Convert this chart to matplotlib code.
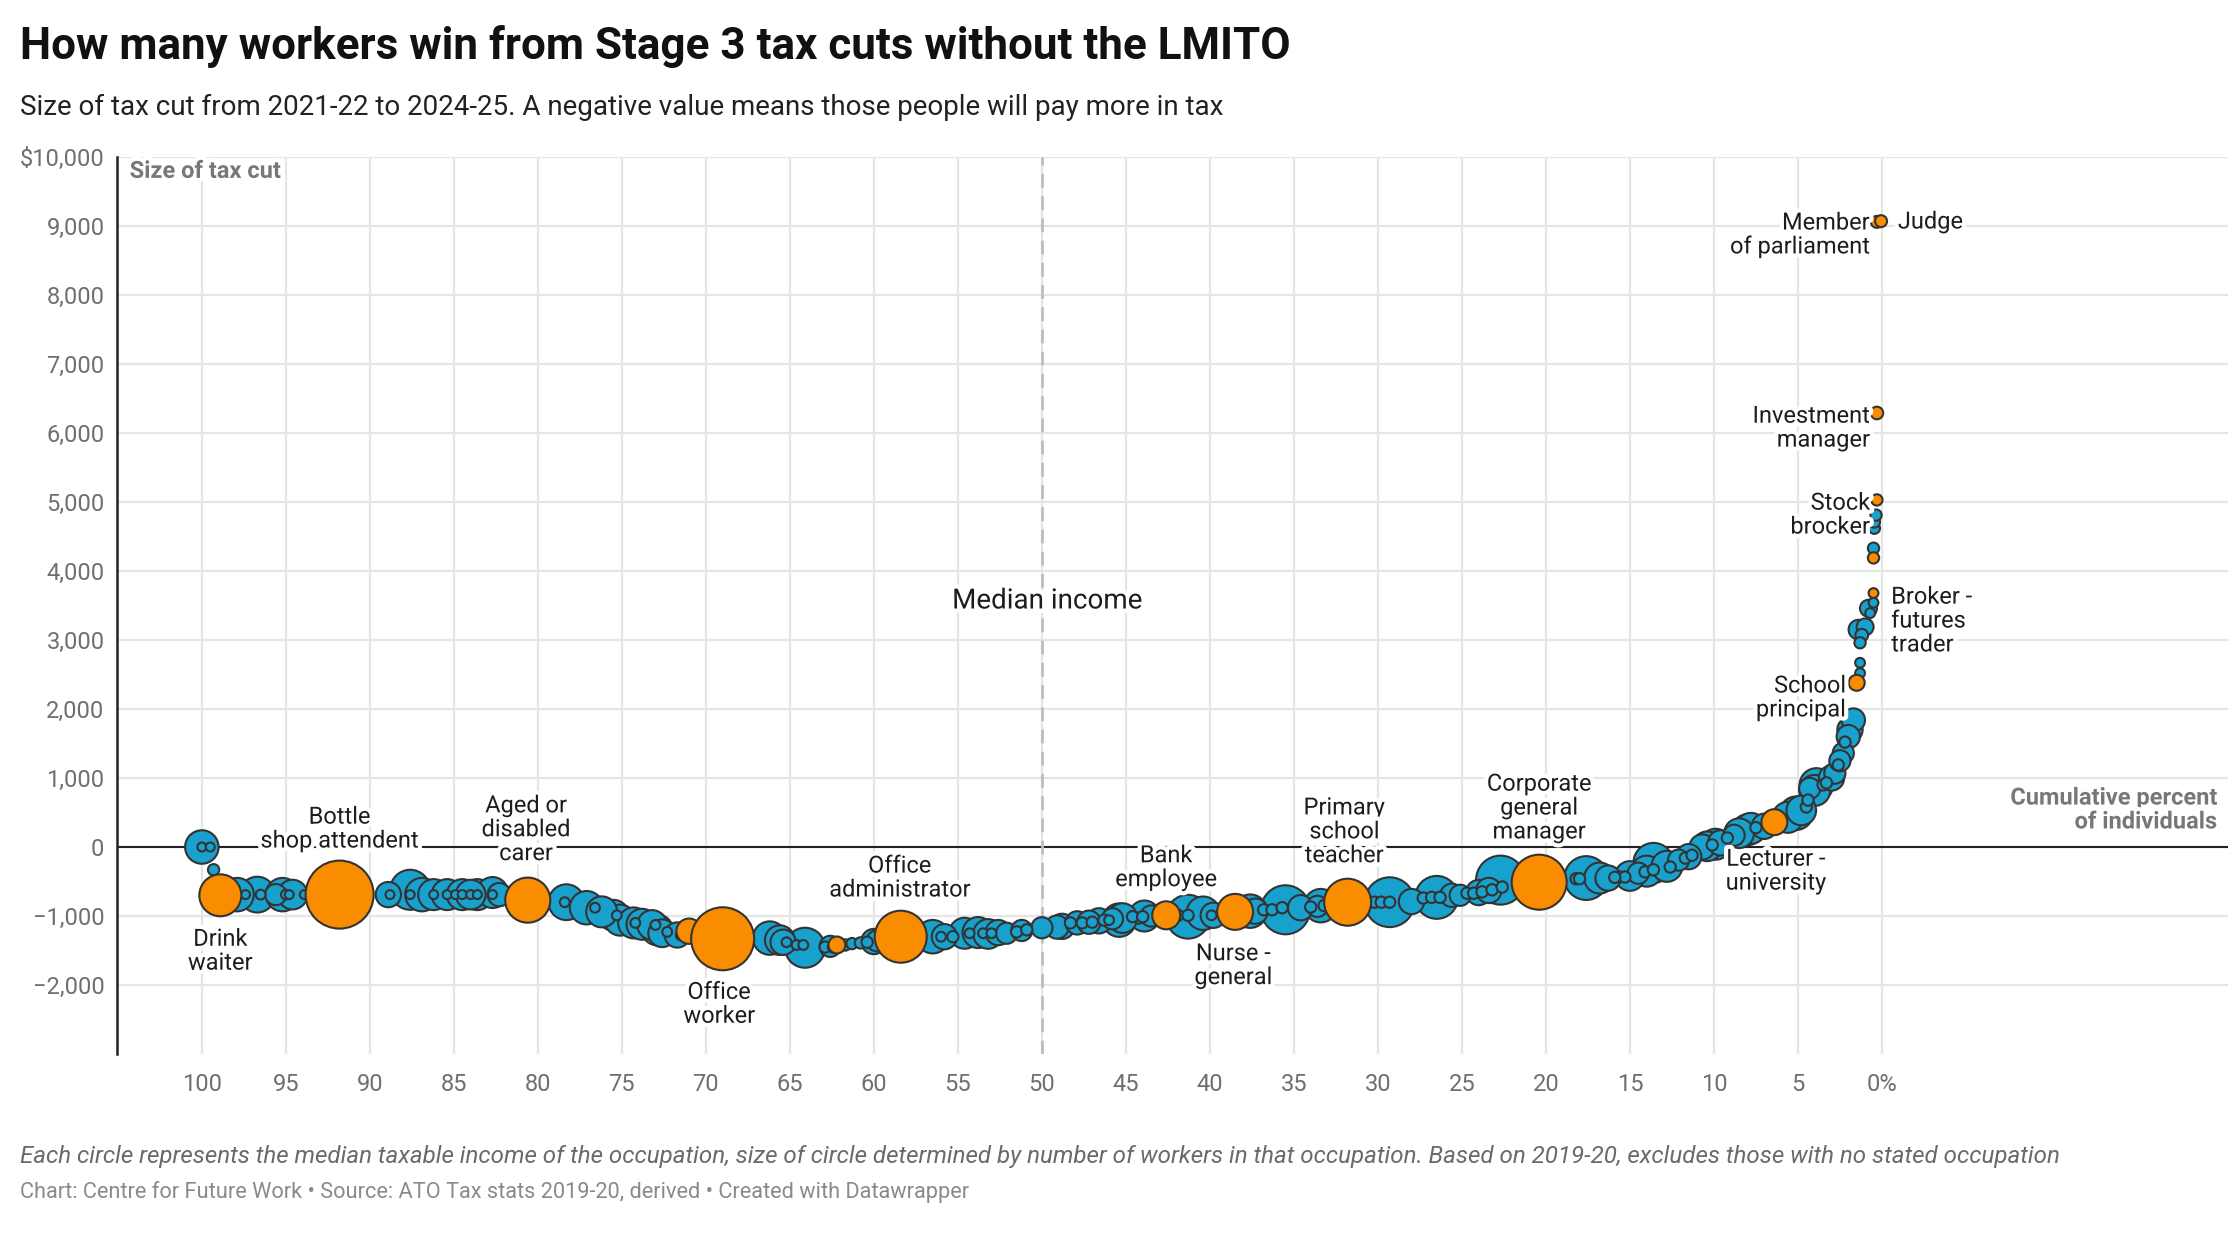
import matplotlib
matplotlib.use("Agg")
import matplotlib.pyplot as plt
import matplotlib.patheffects as pe
import numpy as np

plt.rcParams['font.family'] = ['Roboto', 'DejaVu Sans']

# occupations: cumulative percent of individuals, size of tax cut ($), workers ('000)
occ_pct = [100.0, 100.0, 99.5, 99.3, 97.9, 97.4, 96.7, 96.5, 95.6, 95.2, 95.0, 94.8, 94.6, 93.9,
           88.9, 87.6, 88.8, 87.6, 86.2, 86.2, 85.4, 85.4, 84.9, 84.5, 84.5, 84.0, 83.6, 83.6,
           82.7, 82.7, 82.3, 78.3, 78.4, 77.1, 76.6, 75.5, 75.3, 75.1, 74.3, 74.2, 73.2, 73.0,
           72.6, 72.3, 71.7, 71.5, 66.2, 65.2, 64.6, 64.2, 65.4, 64.1, 62.9, 62.4, 61.7, 61.3,
           60.8, 60.4, 62.6, 56.5, 56.0, 55.3, 54.6, 54.3, 53.5, 53.2, 53.0, 52.1, 51.5, 50.9,
           50.0, 49.1, 48.3, 47.6, 47.0, 46.3, 45.2, 44.2, 46.0, 45.4, 44.6, 44.0, 43.5, 41.3,
           41.9, 41.3, 39.8, 39.9, 37.3, 36.8, 36.3, 35.7, 35.5, 34.0, 33.4, 33.2, 29.3, 30.2,
           29.8, 29.3, 26.5, 27.3, 26.8, 26.3, 25.1, 24.7, 24.3, 23.8, 23.2, 22.6, 22.7, 17.6,
           18.2, 18.0, 16.3, 15.6, 15.3, 15.9, 14.5, 14.1, 13.6, 13.6, 12.6, 12.1, 11.7, 11.3,
           10.7, 10.1, 9.6, 9.2, 8.8, 8.0, 7.5, 5.1, 4.5, 4.4, 3.9, 3.5, 4.3, 3.3, 2.8, 2.6,
           2.3, 2.2, 1.9, 1.7, 1.3, 1.3, 1.3, 1.2, 1.4, 1.0, 0.7, 0.8, 0.5, 0.5, 0.45, 0.45,
           0.35,
           86.9, 84.0, 76.2, 73.8, 72.9, 65.6, 60.0, 59.8, 55.8, 53.8, 52.6, 51.2,
           48.8, 47.9, 47.2, 46.6, 45.8, 43.9, 40.4, 37.6, 34.6, 33.6, 28.0, 25.6,
           24.0, 23.4, 16.8, 15.0, 14.0, 12.8, 11.5, 10.4, 9.9, 8.5, 7.8, 7.0,
           5.6, 4.8, 4.0, 3.0, 2.5, 2.0]
occ_cut = [0, 0, 0, -330, -690, -690, -690, -690, -690, -690, -690, -690, -690, -690,
           -690, -620, -690, -690, -690, -690, -690, -690, -690, -690, -690, -690, -690, -690,
           -690, -660, -690, -800, -800, -880, -880, -990, -990, -1060, -1100, -1100, -1130, -1130,
           -1250, -1230, -1275, -1280, -1320, -1380, -1420, -1420, -1380, -1460, -1450, -1450, -1420, -1400,
           -1390, -1380, -1440, -1300, -1300, -1300, -1250, -1250, -1250, -1260, -1250, -1250, -1230, -1200,
           -1170, -1160, -1100, -1100, -1090, -1060, -1030, -1030, -1060, -1060, -1010, -1010, -1000, -1010,
           -990, -990, -990, -990, -930, -910, -910, -880, -910, -870, -850, -850, -800, -800,
           -800, -800, -730, -740, -730, -730, -700, -670, -670, -650, -620, -580, -480, -450,
           -460, -460, -450, -435, -435, -440, -380, -360, -330, -230, -290, -190, -160, -120,
           0, 30, 60, 130, 170, 250, 280, 490, 580, 680, 900, 900, 850, 930, 1070, 1190,
           1360, 1520, 1700, 1840, 2520, 2670, 2960, 3070, 3150, 3190, 3390, 3460, 3540, 4330, 4620, 4710,
           4810,
           -690, -690, -940, -1120, -1200, -1350, -1370, -1360, -1300, -1240, -1240, -1210,
           -1150, -1100, -1090, -1070, -1040, -1000, -960, -930, -880, -860, -790, -700,
           -660, -630, -450, -420, -350, -280, -140, 10, 40, 200, 270, 300,
           430, 530, 820, 1000, 1250, 1600]
occ_workers = [70, 5, 5, 8, 70, 5, 80, 6, 28, 70, 6, 5, 55, 5,
               40, 100, 5, 5, 60, 5, 60, 5, 5, 60, 5, 5, 60, 5,
               5, 60, 34, 80, 6, 70, 6, 60, 6, 60, 60, 6, 55, 6,
               48, 6, 40, 6, 70, 6, 6, 6, 40, 100, 8, 8, 8, 8,
               8, 8, 28, 70, 6, 8, 60, 6, 6, 55, 6, 28, 8, 8,
               28, 34, 8, 8, 8, 8, 55, 8, 6, 70, 8, 8, 28, 120,
               8, 8, 40, 6, 40, 8, 8, 8, 150, 8, 70, 8, 155, 8,
               8, 8, 115, 8, 8, 8, 28, 8, 8, 8, 8, 8, 150, 120,
               8, 8, 40, 8, 8, 8, 28, 8, 8, 100, 8, 28, 8, 8,
               40, 8, 40, 8, 28, 60, 8, 70, 8, 8, 70, 8, 28, 8, 28, 8,
               28, 8, 40, 34, 6, 6, 8, 10, 24, 18, 6, 18, 6, 8, 8, 8,
               8,
               70, 55, 60, 60, 60, 55, 40, 28, 40, 60, 40, 28,
               40, 34, 34, 40, 28, 60, 70, 70, 40, 28, 40, 34,
               40, 40, 60, 55, 60, 60, 40, 55, 60, 55, 60, 40,
               60, 55, 60, 40, 28, 34]

# highlighted occupations
hl_name = ["Drink\nwaiter", "Bottle\nshop attendent", "Aged or\ndisabled\ncarer", "", "Office\nworker",
           "", "Office\nadministrator", "Bank\nemployee", "Nurse -\ngeneral", "Primary\nschool\nteacher",
           "Corporate\ngeneral\nmanager", "Lecturer -\nuniversity", "School\nprincipal", "Broker -\nfutures\ntrader",
           "", "Stock\nbrocker", "Investment\nmanager", "Member\nof parliament", "Judge"]
hl_pct = [98.9, 91.8, 80.6, 71.0, 69.0, 62.2, 58.4, 42.6, 38.5, 31.8, 20.4, 6.4, 1.5, 0.5,
          0.5, 0.3, 0.3, 0.3, 0.05]
hl_cut = [-700, -690, -770, -1220, -1330, -1420, -1300, -990, -940, -800, -510, 360, 2380, 3680,
          4190, 5030, 6290, 9060, 9070]
hl_workers = [110, 289, 127, 40, 248, 18, 169, 49, 81, 138, 189, 42, 16, 6,
              8, 8, 10, 9, 9]

# label placement (x, y in data units, horizontal alignment)
label_pos = {
    "Drink\nwaiter": (98.9, -1510, "center"),
    "Bottle\nshop attendent": (91.8, 260, "center"),
    "Aged or\ndisabled\ncarer": (80.7, 250, "center"),
    "Office\nworker": (69.2, -2280, "center"),
    "Office\nadministrator": (58.45, -450, "center"),
    "Bank\nemployee": (42.6, -300, "center"),
    "Nurse -\ngeneral": (38.6, -1720, "center"),
    "Primary\nschool\nteacher": (32.0, 220, "center"),
    "Corporate\ngeneral\nmanager": (20.4, 565, "center"),
    "Lecturer -\nuniversity": (6.3, -350, "center"),
    "School\nprincipal": (2.15, 2160, "right"),
    "Broker -\nfutures\ntrader": (-0.55, 3275, "left"),
    "Stock\nbrocker": (0.7, 4810, "right"),
    "Investment\nmanager": (0.7, 6070, "right"),
    "Member\nof parliament": (0.7, 8870, "right"),
    "Judge": (-0.95, 9058, "left"),
}

x_ticks = list(range(100, -1, -5))
y_ticks = list(range(-2000, 10001, 1000))

BLUE = "#18a1cd"
ORANGE = "#fa8c00"
EDGE = "#333333"

fig = plt.figure(figsize=(22.4, 12.4), dpi=100)
ax = fig.add_axes([117 / 2240, 1 - 1054 / 1240, 2111 / 2240, 897 / 1240])
ax.set_xlim(105.05, -20.6)
ax.set_ylim(-3000, 10000)

# grid
ax.set_xticks(x_ticks)
ax.set_xticklabels([str(t) if t else "0%" for t in x_ticks])
ax.set_yticks(y_ticks)
ax.set_yticklabels(["$10,000" if t == 10000 else ("{:,}".format(t).replace("-", "\u2212")) for t in y_ticks])
ax.grid(True, color="#e5e5e5", lw=1.6, zorder=0)
ax.set_axisbelow(True)
ax.tick_params(length=0, labelsize=17, labelcolor="#6f6f6f")
ax.tick_params(axis="x", pad=14)
ax.tick_params(axis="y", pad=9)
for s in ["top", "right", "bottom"]:
    ax.spines[s].set_visible(False)
ax.spines["left"].set_color("#222222")
ax.spines["left"].set_linewidth(1.8)

ax.axhline(0, color="#222222", lw=1.5, zorder=1)
ax.axvline(50, color="#bdbdbd", lw=2.0, ls=(0, (5, 3)), zorder=1)

# blue bubbles, largest first so smaller ones sit on top
bx = np.array(occ_pct)
by = np.array(occ_cut)
bw = np.array(occ_workers, dtype=float)
order = np.argsort(-bw, kind="stable")
ax.scatter(bx[order], by[order], s=bw[order] * 8.3, c=BLUE,
           edgecolors=EDGE, linewidths=1.5, zorder=3)

# highlighted occupations on top
hx = np.array(hl_pct)
hy = np.array(hl_cut)
hw = np.array(hl_workers, dtype=float)
order = np.argsort(hw, kind="stable")
ax.scatter(hx[order], hy[order], s=hw[order] * 8.3, c=ORANGE,
           edgecolors=EDGE, linewidths=1.5, zorder=4)

halo = [pe.withStroke(linewidth=6, foreground="white")]
for name, (lx, ly, ha) in label_pos.items():
    ax.text(lx, ly, name, ha=ha, va="center", multialignment=ha, fontsize=17,
            color="#1d1d1d", zorder=5, path_effects=halo, linespacing=1.05)

ax.text(49.7, 3565, "Median income", ha="center", va="center", fontsize=20,
        color="#1d1d1d", zorder=5, path_effects=halo)
ax.text(0.006, 0.984, "Size of tax cut", transform=ax.transAxes, ha="left", va="center",
        fontsize=17, fontweight="bold", color="#777777", zorder=5, path_effects=halo)
ax.text(0.995, 0.272, "Cumulative percent\nof individuals", transform=ax.transAxes,
        ha="right", va="center", multialignment="right", fontsize=17, fontweight="bold",
        color="#777777", zorder=5, path_effects=halo, linespacing=1.05)

fig.text(20 / 2240, 1 - 46 / 1240, "How many workers win from Stage 3 tax cuts without the LMITO",
         fontsize=31.7, fontweight="bold", color="#111111", va="center")
fig.text(20 / 2240, 1 - 107 / 1240,
         "Size of tax cut from 2021-22 to 2024-25. A negative value means those people will pay more in tax",
         fontsize=20, color="#222222", va="center")
fig.text(20 / 2240, 1 - 1156 / 1240,
         "Each circle represents the median taxable income of the occupation, size of circle determined by number "
         "of workers in that occupation. Based on 2019-20, excludes those with no stated occupation",
         fontsize=17.4, style="italic", color="#6a6a6a", va="center")
fig.text(20 / 2240, 1 - 1192 / 1240,
         "Chart: Centre for Future Work \u2022 Source: ATO Tax stats 2019-20, derived \u2022 Created with Datawrapper",
         fontsize=15.7, color="#8a8a8a", va="center")

fig.savefig("out.png", dpi=100, facecolor="white")
